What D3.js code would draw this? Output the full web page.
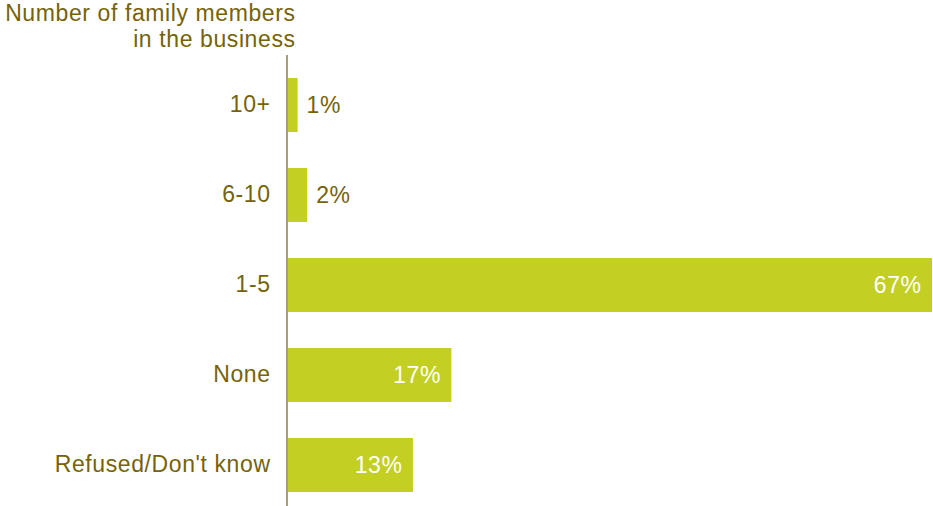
<!DOCTYPE html>
<html>
<head>
<meta charset="utf-8">
<script src="https://cdn.jsdelivr.net/npm/d3@7"></script>
<style>
  html, body { margin: 0; padding: 0; background: #ffffff; }
  svg { display: block; font-family: "Liberation Sans", Arial, Helvetica, sans-serif; }
</style>
</head>
<body>
<svg id="chart" width="933" height="506"></svg>
<script>
// Share of respondents by number of family members working in the business
const categories = ["10+", "6-10", "1-5", "None", "Refused/Don't know"];
const values = [1, 2, 67, 17, 13];
const valueLabels = ["1%", "2%", "67%", "17%", "13%"];
const titleLines = ["Number of family members", "in the business"];

const W = 933, H = 506;
const barColor = "#c3cf23";
const textColor = "#766308";
const axisColor = "#8e7e45";
const fontSize = 23;
const spacing = 0.6;

const svg = d3.select("#chart");

const axisX = 287;
const x = d3.scaleLinear().domain([0, 67]).range([axisX + 1, 932]);
const y = d3.scaleBand().domain(categories).range([55.5, 514.5]).paddingInner(0.4).paddingOuter(0.25);

// Title (right aligned above the category labels)
svg.append("g")
  .selectAll("text")
  .data(titleLines)
  .join("text")
  .attr("x", 295 + spacing)
  .attr("y", (d, i) => 20.5 + i * 26)
  .attr("text-anchor", "end")
  .attr("fill", textColor)
  .attr("font-size", fontSize)
  .attr("letter-spacing", spacing)
  .text(d => d);

// Bars
svg.append("g")
  .selectAll("rect")
  .data(values)
  .join("rect")
  .attr("x", x(0))
  .attr("y", (d, i) => y(categories[i]))
  .attr("width", d => x(d) - x(0))
  .attr("height", y.bandwidth())
  .attr("fill", barColor);

// Category axis
const yAxis = d3.axisLeft(y).tickSize(0).tickPadding(17 - spacing);
const gy = svg.append("g")
  .attr("transform", `translate(${axisX},0)`)
  .call(yAxis);
gy.select(".domain").remove();
gy.selectAll("text")
  .attr("fill", textColor)
  .attr("font-size", fontSize)
  .attr("letter-spacing", spacing)
  .attr("font-family", "'Liberation Sans', Arial, Helvetica, sans-serif");

svg.append("line")
  .attr("x1", axisX).attr("x2", axisX)
  .attr("y1", 55).attr("y2", H)
  .attr("stroke", axisColor)
  .attr("stroke-width", 1.5);

// Value labels: inside the bar when it is wide enough, otherwise just past its end
svg.append("g")
  .selectAll("text")
  .data(values)
  .join("text")
  .each(function (d, i) {
    const inside = x(d) - x(0) > 60;
    d3.select(this)
      .attr("x", inside ? x(d) - 11 + spacing : x(d) + 9)
      .attr("y", y(categories[i]) + y.bandwidth() / 2)
      .attr("dy", "0.35em")
      .attr("text-anchor", inside ? "end" : "start")
      .attr("fill", inside ? "#ffffff" : textColor)
      .attr("font-size", fontSize)
      .attr("letter-spacing", spacing)
      .text(valueLabels[i]);
  });
</script>
</body>
</html>
